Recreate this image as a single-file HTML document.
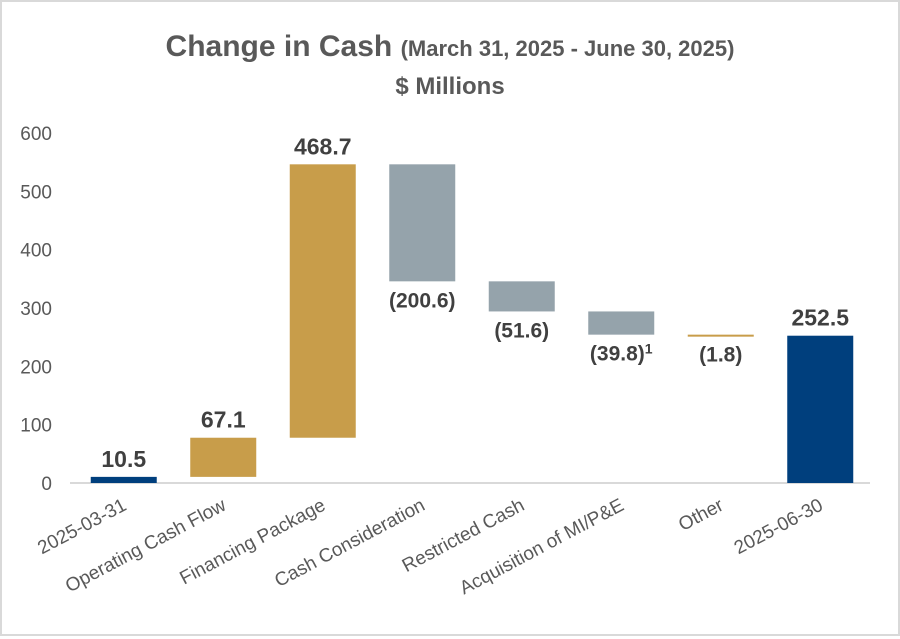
<!DOCTYPE html>
<html><head><meta charset="utf-8"><style>
html,body{margin:0;padding:0;background:#fff}
#wrap{position:relative;width:900px;height:636px;box-sizing:border-box;border:2px solid #d9d9d9;background:#fff;font-family:"Liberation Sans",sans-serif}
</style></head><body>
<div id="wrap">
<svg id="chart" width="896" height="632" viewBox="2 2 896 632" xmlns="http://www.w3.org/2000/svg">
<text x="450" y="56" text-anchor="middle" fill="#595959" font-weight="bold"><tspan font-size="30">Change in Cash </tspan><tspan font-size="22">(March 31, 2025 - June 30, 2025)</tspan></text>
<text x="450" y="94" text-anchor="middle" fill="#595959" font-weight="bold" font-size="24">$ Millions</text>
<g id="yaxis"></g><g id="bars"></g><g id="xlabels"></g>
</svg>
</div>
<script>
const categories=["2025-03-31","Operating Cash Flow","Financing Package","Cash Consideration","Restricted Cash","Acquisition of MI/P&E","Other","2025-06-30"];
const changes=[10.5,67.1,468.7,-200.6,-51.6,-39.8,-1.8,252.5];
const kinds=["total","delta","delta","delta","delta","delta","delta","total"];
const valueLabels=["10.5","67.1","468.7","(200.6)","(51.6)","(39.8)","(1.8)","252.5"];
const yTicks=[0,100,200,300,400,500,600];
const NS="http://www.w3.org/2000/svg";
const y0=483,pxPer=350/600,x0=74,step=99.5,bw=66;
const Y=v=>y0-v*pxPer;
const X=i=>x0+step*(i+0.5);
function mk(tag,attrs,parent){const e=document.createElementNS(NS,tag);for(const k in attrs)e.setAttribute(k,attrs[k]);parent.appendChild(e);return e;}
const ya=document.getElementById('yaxis');
yTicks.forEach(t=>{const e=mk('text',{x:52,y:Y(t)+7,'text-anchor':'end','font-size':19,fill:'#595959'},ya);e.textContent=t;

});
const ax=mk('line',{x1:x0-4,x2:x0+step*8,y1:y0,y2:y0,stroke:'#d9d9d9','stroke-width':2},ya);


const bg=document.getElementById('bars');
let run=0;
changes.forEach((c,i)=>{
 let lo,hi,col;
 if(kinds[i]==="total"){lo=0;hi=c;run=c;col='#003f7d';}
 else{const prev=run;run=prev+c;lo=Math.min(prev,run);hi=Math.max(prev,run);col=c>=0?'#c89d4a':'#95a3ab';}
 if(kinds[i]==="delta"&&i===6)col='#c89d4a';
 const h=Math.max((hi-lo)*pxPer,2);
 const r=mk('rect',{x:X(i)-bw/2,y:Y(hi),width:bw,height:h,fill:col},bg);
 
 
 const neg=c<0;
 const ly=neg?Y(lo)+26:Y(hi)-10;
 const t=mk('text',{x:X(i),y:ly,'text-anchor':'middle','font-size':neg?21:23,'font-weight':'bold',fill:'#404040'},bg);
 t.textContent=valueLabels[i];
 if(i===5){const s=mk('tspan',{'font-size':14,dy:-7},t);s.textContent='1';}
 
 
});
const xl=document.getElementById('xlabels');
categories.forEach((c,i)=>{
 const cx=X(i)+4,cy=y0+26;
 const t=mk('text',{x:cx,y:cy,'text-anchor':'end','font-size':19,fill:'#595959',transform:`rotate(-28 ${cx} ${cy})`},xl);
 t.textContent=c;
 
 
});
</script>
</body></html>
